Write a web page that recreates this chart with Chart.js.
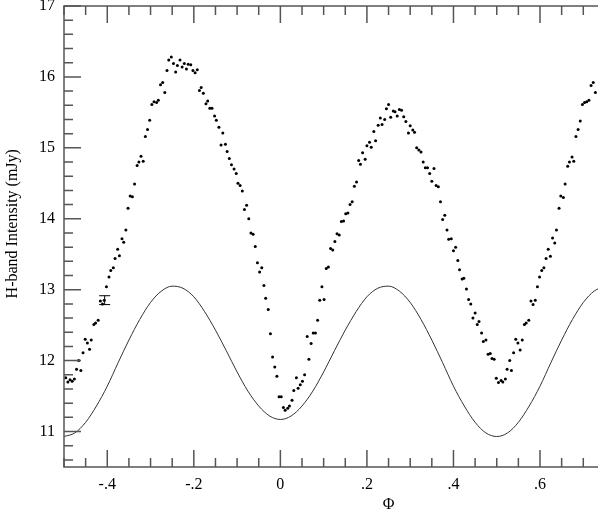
<!DOCTYPE html>
<html>
<head>
<meta charset="utf-8">
<script src="https://cdn.jsdelivr.net/npm/chart.js@4.4.1/dist/chart.umd.min.js"></script>
<style>
  html, body { margin: 0; padding: 0; background: #fff; overflow: hidden; }
  #wrap { width: 602px; height: 512px; }
</style>
</head>
<body>
<div id="wrap"><canvas id="lightCurve" width="602" height="512"></canvas></div>
<script>
// Observed H-band points (phase, mJy)
const obsPhase = [
    -0.496, -0.491, -0.486, -0.481, -0.476, -0.471, -0.466, -0.461, -0.456, -0.451,
    -0.446, -0.441, -0.437, -0.431, -0.427, -0.421, -0.416, -0.411, -0.407, -0.402,
    -0.396, -0.392, -0.386, -0.382, -0.376, -0.372, -0.366, -0.362, -0.357, -0.352,
    -0.347, -0.342, -0.337, -0.331, -0.327, -0.322, -0.317, -0.312, -0.307, -0.302,
    -0.297, -0.292, -0.286, -0.282, -0.277, -0.272, -0.267, -0.262, -0.258, -0.252,
    -0.247, -0.242, -0.238, -0.232, -0.227, -0.222, -0.217, -0.213, -0.207, -0.202,
    -0.197, -0.192, -0.187, -0.183, -0.178, -0.172, -0.168, -0.163, -0.158, -0.152,
    -0.148, -0.142, -0.137, -0.133, -0.127, -0.123, -0.118, -0.113, -0.107, -0.102,
    -0.098, -0.093, -0.088, -0.083, -0.078, -0.073, -0.068, -0.063, -0.058, -0.053,
    -0.048, -0.043, -0.038, -0.034, -0.028, -0.023, -0.018, -0.013, -0.008, -0.003,
    0.002, 0.007, 0.011, 0.017, 0.021, 0.027, 0.031, 0.037, 0.041, 0.046,
    0.051, 0.056, 0.062, 0.066, 0.071, 0.076, 0.081, 0.086, 0.091, 0.096,
    0.101, 0.106, 0.111, 0.116, 0.121, 0.126, 0.131, 0.136, 0.141, 0.146,
    0.151, 0.156, 0.161, 0.166, 0.171, 0.176, 0.181, 0.185, 0.190, 0.196,
    0.200, 0.206, 0.210, 0.216, 0.220, 0.226, 0.231, 0.235, 0.241, 0.245,
    0.250, 0.255, 0.261, 0.265, 0.270, 0.275, 0.280, 0.285, 0.290, 0.296,
    0.300, 0.306, 0.310, 0.315, 0.320, 0.325, 0.330, 0.335, 0.340, 0.345,
    0.350, 0.355, 0.360, 0.365, 0.370, 0.375, 0.380, 0.385, 0.389, 0.395,
    0.400, 0.405, 0.410, 0.414, 0.420, 0.424, 0.430, 0.435, 0.440, 0.445,
    0.450, 0.455, 0.459, 0.465, 0.469, 0.475, 0.480, 0.485, 0.489, 0.494,
    0.499, 0.504, 0.510, 0.514, 0.520, 0.524, 0.530, 0.534, 0.539, 0.544,
    0.549, 0.554, 0.559, 0.564, 0.568, 0.574, 0.579, 0.584, 0.589, 0.594,
    0.599, 0.604, 0.609, 0.614, 0.619, 0.624, 0.629, 0.634, 0.638, 0.644,
    0.648, 0.654, 0.658, 0.664, 0.668, 0.674, 0.678, 0.683, 0.688, 0.693,
    0.698, 0.703, 0.708, 0.713, 0.718, 0.723, 0.728
];
const obsFlux = [
    11.76, 11.70, 11.73, 11.71, 11.74, 11.88, 12.00, 11.86, 12.11, 12.30,
    12.25, 12.16, 12.29, 12.51, 12.53, 12.57, 12.84, 12.80, 12.85, 13.04,
    13.18, 13.27, 13.31, 13.44, 13.57, 13.48, 13.72, 13.67, 13.84, 14.15,
    14.32, 14.31, 14.49, 14.75, 14.80, 14.88, 14.81, 15.16, 15.26, 15.39,
    15.61, 15.65, 15.64, 15.67, 15.89, 15.92, 15.78, 16.09, 16.24, 16.28,
    16.19, 16.07, 16.16, 16.24, 16.14, 16.19, 16.11, 16.18, 16.17, 16.09,
    16.06, 16.10, 15.81, 15.85, 15.77, 15.62, 15.66, 15.56, 15.56, 15.45,
    15.39, 15.29, 15.04, 15.21, 15.05, 14.95, 14.85, 14.76, 14.70, 14.64,
    14.50, 14.47, 14.39, 14.13, 14.19, 14.00, 13.80, 13.78, 13.61, 13.38,
    13.25, 13.31, 13.06, 12.88, 12.72, 12.38, 12.05, 11.91, 11.78, 11.49,
    11.49, 11.34, 11.30, 11.33, 11.36, 11.44, 11.58, 11.76, 11.61, 11.66,
    11.71, 11.80, 12.34, 12.02, 12.24, 12.39, 12.39, 12.57, 12.85, 13.04,
    12.86, 13.30, 13.32, 13.58, 13.56, 13.68, 13.79, 13.77, 13.96, 13.97,
    14.07, 14.08, 14.20, 14.24, 14.46, 14.52, 14.82, 14.77, 14.93, 14.84,
    15.03, 15.08, 15.01, 15.23, 15.10, 15.32, 15.42, 15.33, 15.40, 15.55,
    15.61, 15.43, 15.52, 15.51, 15.45, 15.54, 15.53, 15.44, 15.37, 15.21,
    15.31, 15.25, 15.22, 15.00, 14.97, 14.94, 14.80, 14.72, 14.72, 14.64,
    14.53, 14.71, 14.47, 14.45, 14.24, 13.99, 14.05, 13.84, 13.71, 13.72,
    13.55, 13.60, 13.41, 13.28, 13.15, 13.16, 13.01, 12.86, 12.80, 12.60,
    12.67, 12.51, 12.55, 12.39, 12.27, 12.29, 12.09, 12.10, 12.03, 12.02,
    11.75, 11.69, 11.72, 11.70, 11.74, 11.88, 12.00, 11.86, 12.11, 12.30,
    12.25, 12.15, 12.29, 12.51, 12.53, 12.57, 12.84, 12.79, 12.85, 13.04,
    13.18, 13.27, 13.31, 13.44, 13.57, 13.47, 13.73, 13.66, 13.84, 14.15,
    14.32, 14.30, 14.49, 14.74, 14.80, 14.87, 14.81, 15.16, 15.26, 15.38,
    15.61, 15.64, 15.65, 15.67, 15.88, 15.92, 15.78
];

// Model curve every 0.025 in phase
const modelPhase = [
    -0.5, -0.475, -0.45, -0.425, -0.4, -0.375, -0.35, -0.325, -0.3, -0.275,
    -0.25, -0.225, -0.2, -0.175, -0.15, -0.125, -0.1, -0.075, -0.05, -0.025,
    0, 0.025, 0.05, 0.075, 0.1, 0.125, 0.15, 0.175, 0.2, 0.225,
    0.25, 0.275, 0.3, 0.325, 0.35, 0.375, 0.4, 0.425, 0.45, 0.475,
    0.5, 0.525, 0.55, 0.575, 0.6, 0.625, 0.65, 0.675, 0.7, 0.725, 0.75
];
const modelFlux = [
    10.93, 10.98, 11.13, 11.36, 11.64, 11.97, 12.29, 12.58, 12.82, 12.98,
    13.05, 13.02, 12.90, 12.69, 12.43, 12.14, 11.84, 11.57, 11.36, 11.22,
    11.17, 11.22, 11.36, 11.57, 11.84, 12.14, 12.43, 12.69, 12.90, 13.02,
    13.05, 12.98, 12.82, 12.58, 12.29, 11.97, 11.64, 11.36, 11.13, 10.98,
    10.93, 10.98, 11.13, 11.36, 11.64, 11.97, 12.29, 12.58, 12.82, 12.98, 13.05
];

// Single representative error bar
const errPhase = [-0.406];
const errLow = [12.79];
const errHigh = [12.915];

// Tick labels
const xMajorTicks = [-0.4, -0.2, 0, 0.2, 0.4, 0.6];
const xTickLabels = ['-.4', '-.2', '0', '.2', '.4', '.6'];
const yMajorTicks = [11, 12, 13, 14, 15, 16, 17];
const yTickLabels = ['11', '12', '13', '14', '15', '16', '17'];

const serif = '"Liberation Serif", "Times New Roman", serif';
const axisColor = '#555';

function labelFor(value, majors, labels) {
    const i = majors.findIndex(m => Math.abs(m - value) < 1e-6);
    return i >= 0 ? labels[i] : '';
}

// Frame, inward tick marks, error bar and axis titles
const framePlugin = {
    id: 'frame',
    afterDraw(chart) {
        const ctx = chart.ctx;
        const area = chart.chartArea;
        const xs = chart.scales.x;
        const ys = chart.scales.y;
        ctx.save();
        ctx.strokeStyle = axisColor;
        ctx.lineWidth = 1.5;

        ctx.beginPath();
        ctx.moveTo(area.right, area.top);
        ctx.lineTo(area.left, area.top);
        ctx.lineTo(area.left, area.bottom);
        ctx.lineTo(area.right, area.bottom);
        ctx.stroke();

        ctx.beginPath();
        xs.ticks.forEach(t => {
            const px = xs.getPixelForValue(t.value);
            const len = labelFor(t.value, xMajorTicks, xTickLabels) ? 17 : 9;
            ctx.moveTo(px, area.bottom);
            ctx.lineTo(px, area.bottom - len);
            ctx.moveTo(px, area.top);
            ctx.lineTo(px, area.top + len);
        });
        ys.ticks.forEach(t => {
            const py = ys.getPixelForValue(t.value);
            const len = labelFor(t.value, yMajorTicks, yTickLabels) ? 17 : 9;
            ctx.moveTo(area.left, py);
            ctx.lineTo(area.left + len, py);
        });
        ctx.stroke();

        // error bar
        ctx.strokeStyle = '#000';
        ctx.lineWidth = 1;
        ctx.beginPath();
        errPhase.forEach((p, i) => {
            const px = xs.getPixelForValue(p);
            const top = ys.getPixelForValue(errHigh[i]);
            const bot = ys.getPixelForValue(errLow[i]);
            ctx.moveTo(px, top); ctx.lineTo(px, bot);
            ctx.moveTo(px - 5.5, top); ctx.lineTo(px + 5.5, top);
            ctx.moveTo(px - 5.5, bot); ctx.lineTo(px + 5.5, bot);
        });
        ctx.stroke();

        // axis titles
        ctx.fillStyle = '#000';
        ctx.textAlign = 'center';
        ctx.textBaseline = 'middle';
        ctx.font = '16px ' + serif;
        ctx.fillText('\u03A6', xs.getPixelForValue(0.25), 505);
        ctx.translate(13, ys.getPixelForValue(13.93));
        ctx.rotate(-Math.PI / 2);
        ctx.font = '16px ' + serif;
        ctx.fillText('H-band Intensity (mJy)', 0, 0);
        ctx.restore();
    }
};

const ctx = document.getElementById('lightCurve').getContext('2d');
new Chart(ctx, {
    type: 'scatter',
    data: {
        datasets: [{
            label: 'Model',
            type: 'line',
            data: modelPhase.map((p, i) => ({ x: p, y: modelFlux[i] })),
            borderColor: '#333',
            borderWidth: 1,
            pointRadius: 0,
            fill: false,
            cubicInterpolationMode: 'monotone'
        }, {
            label: 'H band',
            data: obsPhase.map((p, i) => ({ x: p, y: obsFlux[i] })),
            backgroundColor: '#000',
            borderWidth: 0,
            pointRadius: 1.5
        }]
    },
    options: {
        responsive: false,
        animation: false,
        layout: { padding: { top: 6, right: 0, left: 0, bottom: 0 } },
        plugins: {
            legend: { display: false },
            tooltip: { enabled: false }
        },
        scales: {
            x: {
                type: 'linear',
                min: -0.5,
                max: 0.734,
                grid: { display: false, drawTicks: false },
                border: { display: false },
                ticks: {
                    stepSize: 0.05,
                    includeBounds: false,
                    autoSkip: false,
                    maxRotation: 0,
                    padding: 8,
                    color: '#000',
                    font: { family: serif, size: 16 },
                    callback: v => labelFor(v, xMajorTicks, xTickLabels)
                },
                afterFit(s) { s.height = 45; s.paddingLeft = 0; s.paddingRight = 0; }
            },
            y: {
                min: 10.5,
                max: 17,
                grid: { display: false, drawTicks: false },
                border: { display: false },
                ticks: {
                    stepSize: 0.2,
                    includeBounds: false,
                    autoSkip: false,
                    padding: 9,
                    color: '#000',
                    font: { family: serif, size: 16 },
                    callback: v => labelFor(v, yMajorTicks, yTickLabels)
                },
                afterFit(s) { s.width = 64; s.paddingTop = 0; s.paddingBottom = 0; }
            }
        }
    },
    plugins: [framePlugin]
});
</script>
</body>
</html>
